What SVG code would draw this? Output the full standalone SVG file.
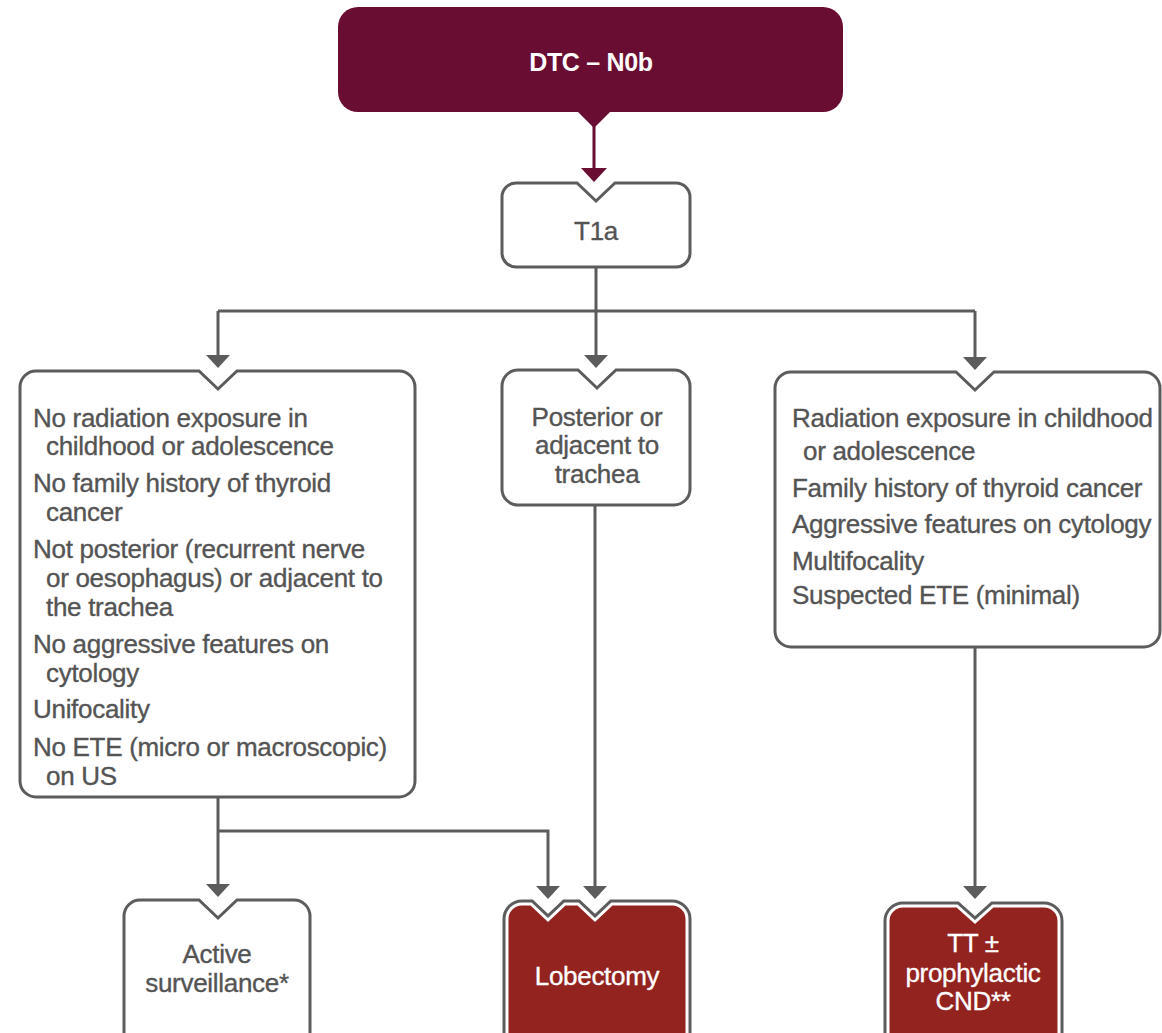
<svg xmlns="http://www.w3.org/2000/svg" width="1162" height="1033" viewBox="0 0 1162 1033">
  <style>
    .box { fill: #ffffff; stroke: #5c5c5c; stroke-width: 3; }
    .redbox-out { fill: #93231f; stroke: #5c5c5c; stroke-width: 9; }
    .redbox-in { fill: #93231f; stroke: #ffffff; stroke-width: 3; }
    .wire { fill: none; stroke: #5c5c5c; stroke-width: 3; marker-end: url(#arrow); }
    .plain { fill: none; stroke: #5c5c5c; stroke-width: 3; }
    text { font-family: "Liberation Sans", Arial, sans-serif; font-size: 26px; letter-spacing: -0.3px; fill: #545454; stroke: #545454; stroke-width: 0.35px; }
    .c { text-anchor: middle; }
    .w { fill: #ffffff; stroke: #ffffff; }
    .title { font-weight: bold; font-size: 25px; fill: #ffffff; stroke: none; }
  </style>
  <defs>
    <marker id="arrow" markerUnits="userSpaceOnUse" markerWidth="14" markerHeight="24" viewBox="0 0 13 24" refX="5" refY="12" orient="auto">
      <path d="M0,0 L13,12 L0,24 Z" fill="#5c5c5c"/>
    </marker>
    <marker id="arrow-maroon" markerUnits="userSpaceOnUse" markerWidth="14" markerHeight="26" viewBox="0 0 14 26" refX="6" refY="13" orient="auto">
      <path d="M0,0 L14,13 L0,26 Z" fill="#6a0d33"/>
    </marker>
  </defs>

  <rect width="1162" height="1033" fill="#ffffff"/>

  <!-- connectors -->
  <g id="connectors">
    <line x1="594" y1="120" x2="594" y2="174" stroke="#6a0d33" stroke-width="3" marker-end="url(#arrow-maroon)"/>
    <path class="wire" d="M596,267 V360"/>
    <path class="plain" d="M218,311 H975"/>
    <path class="wire" d="M218,311 V360"/>
    <path class="wire" d="M975,311 V362"/>
    <path class="wire" d="M218,797 V889"/>
    <path class="wire" d="M218,831 H548 V891"/>
    <path class="wire" d="M595,505 V891"/>
    <path class="wire" d="M975,647 V891"/>
  </g>

  <!-- start node -->
  <g id="node-dtc">
    <rect x="338" y="7" width="505" height="105" rx="20" fill="#6a0d33"/>
    <polygon points="576,110 612,110 594,128" fill="#6a0d33"/>
    <text class="title c" x="591" y="71">DTC – N0b</text>
  </g>

  <g id="node-t1a">
    <path class="box" d="M516,183 H577 L596,201 L615,183 H676 A14,14 0 0 1 690,197 V253 A14,14 0 0 1 676,267 H516 A14,14 0 0 1 502,253 V197 A14,14 0 0 1 516,183 Z"/>
    <text class="c" x="596" y="240">T1a</text>
  </g>

  <g id="node-low-risk">
    <path class="box" d="M36,371 H199 L218,389 L237,371 H399 A16,16 0 0 1 415,387 V781 A16,16 0 0 1 399,797 H36 A16,16 0 0 1 20,781 V387 A16,16 0 0 1 36,371 Z"/>
    <text x="33" y="427">No radiation exposure in</text>
    <text x="46" y="455">childhood or adolescence</text>
    <text x="33" y="492">No family history of thyroid</text>
    <text x="46" y="521">cancer</text>
    <text x="33" y="558">Not posterior (recurrent nerve</text>
    <text x="46" y="587">or oesophagus) or adjacent to</text>
    <text x="46" y="616">the trachea</text>
    <text x="33" y="653">No aggressive features on</text>
    <text x="46" y="682">cytology</text>
    <text x="33" y="718">Unifocality</text>
    <text x="33" y="756">No ETE (micro or macroscopic)</text>
    <text x="46" y="785">on US</text>
  </g>

  <g id="node-posterior">
    <path class="box" d="M518,370 H578 L597,388 L616,370 H674 A16,16 0 0 1 690,386 V489 A16,16 0 0 1 674,505 H518 A16,16 0 0 1 502,489 V386 A16,16 0 0 1 518,370 Z"/>
    <text class="c" x="597" y="426">Posterior or</text>
    <text class="c" x="597" y="454">adjacent to</text>
    <text class="c" x="597" y="483">trachea</text>
  </g>

  <g id="node-high-risk">
    <path class="box" d="M791,372 H956 L975,390 L994,372 H1144 A16,16 0 0 1 1160,388 V631 A16,16 0 0 1 1144,647 H791 A16,16 0 0 1 775,631 V388 A16,16 0 0 1 791,372 Z"/>
    <text x="792" y="427">Radiation exposure in childhood</text>
    <text x="803" y="460">or adolescence</text>
    <text x="792" y="497">Family history of thyroid cancer</text>
    <text x="792" y="533">Aggressive features on cytology</text>
    <text x="792" y="570">Multifocality</text>
    <text x="792" y="604">Suspected ETE (minimal)</text>
  </g>

  <g id="node-surveillance">
    <path class="box" d="M140,900 H199 L218,918 L237,900 H294 A16,16 0 0 1 310,916 V1050 H124 V916 A16,16 0 0 1 140,900 Z"/>
    <text class="c" x="217" y="963">Active</text>
    <text class="c" x="217" y="992">surveillance*</text>
  </g>

  <g id="node-lobectomy">
    <path class="redbox-out" d="M522,904 H531 L548,920 L565,904 H578 L595,920 L612,904 H672 A15,15 0 0 1 687,919 V1050 H507 V919 A15,15 0 0 1 522,904 Z"/>
    <path class="redbox-in" d="M522,904 H531 L548,920 L565,904 H578 L595,920 L612,904 H672 A15,15 0 0 1 687,919 V1050 H507 V919 A15,15 0 0 1 522,904 Z"/>
    <text class="c w" x="597" y="985">Lobectomy</text>
  </g>

  <g id="node-tt">
    <path class="redbox-out" d="M903,906 H957 L975,922 L993,906 H1044 A15,15 0 0 1 1059,921 V1050 H888 V921 A15,15 0 0 1 903,906 Z"/>
    <path class="redbox-in" d="M903,906 H957 L975,922 L993,906 H1044 A15,15 0 0 1 1059,921 V1050 H888 V921 A15,15 0 0 1 903,906 Z"/>
    <text class="c w" x="973" y="952">TT ±</text>
    <text class="c w" x="973" y="982">prophylactic</text>
    <text class="c w" x="973" y="1010">CND**</text>
  </g>
</svg>
